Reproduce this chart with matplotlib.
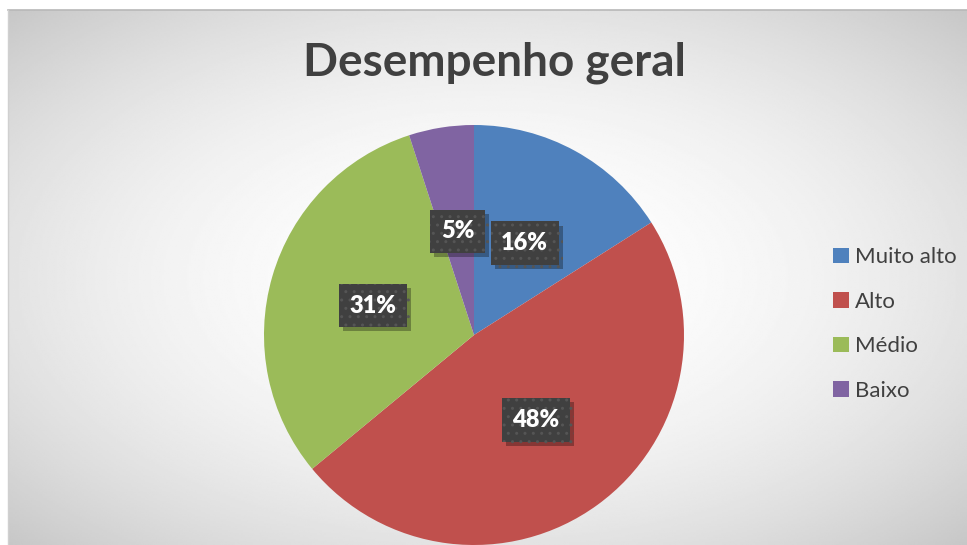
import matplotlib.pyplot as plt
import matplotlib.patheffects as pe
import numpy as np

categories = ["Muito alto", "Alto", "Médio", "Baixo"]
shares = [16, 48, 31, 5]
colors = ["#4f81bd", "#c0504d", "#9bbb59", "#8064a2"]
title = "Desempenho geral"

W, H = 967, 545
fig = plt.figure(figsize=(W / 100, H / 100), dpi=100)
fig.patch.set_facecolor("white")

# chart area with a soft radial gradient (white centre, grey corners)
left, top = 8, 10
bg = fig.add_axes([left / W, 0, (W - left) / W, (H - top) / H])
yy, xx = np.mgrid[0:1:300j, 0:1:500j]
d = np.hypot(xx - 0.5, yy - 0.5) / np.hypot(0.5, 0.5)
shade = 1 - 0.22 * d ** 2
bg.imshow(shade, cmap="gray", vmin=0, vmax=1, extent=(0, 1, 0, 1),
          aspect="auto", interpolation="bilinear")
bg.set_axis_off()
fig.add_artist(plt.Line2D([left / W, 1], [1 - top / H, 1 - top / H],
                          color="#b8b8b8", lw=1.2, transform=fig.transFigure))
fig.add_artist(plt.Line2D([left / W, left / W], [0, 1 - top / H],
                          color="#d0d0d0", lw=1.0, transform=fig.transFigure))

fig.text(494 / W, 1 - 63 / H, title, ha="center", va="center",
         fontsize=33, fontweight="bold", color="#404040", family="Lato")

# pie
cx, cy, r = 474, 335, 210
ax = fig.add_axes([(cx - r) / W, (H - cy - r) / H, 2 * r / W, 2 * r / H])
wedges, texts, autotexts = ax.pie(
    shares, colors=colors, startangle=90, counterclock=False,
    autopct=lambda p: f"{p:.0f}%", pctdistance=0.5,
    wedgeprops=dict(linewidth=0),
    textprops=dict(color="white", fontsize=17, fontweight="heavy", family="Lato"),
)
ax.set_xlim(-1, 1)
ax.set_ylim(-1, 1)
ax.set_aspect("equal")

for t in autotexts:
    t.set_bbox(dict(boxstyle="square,pad=0.45", fc="#404040", ec="#555555",
                    lw=0, hatch=".."))
    t.get_bbox_patch().set_path_effects(
        [pe.SimplePatchShadow(offset=(3, -3), shadow_rgbFace="black", alpha=0.3),
         pe.Normal()])

leg = fig.legend(wedges, categories, loc="center left",
                 bbox_to_anchor=(813 / W, 1 - 324 / H), frameon=False,
                 handlelength=0.7, handleheight=0.7, handletextpad=0.3,
                 labelspacing=1.1, prop=dict(family="Lato", size=16))
for txt in leg.get_texts():
    txt.set_color("#404040")

fig.savefig("out.png", dpi=100)
